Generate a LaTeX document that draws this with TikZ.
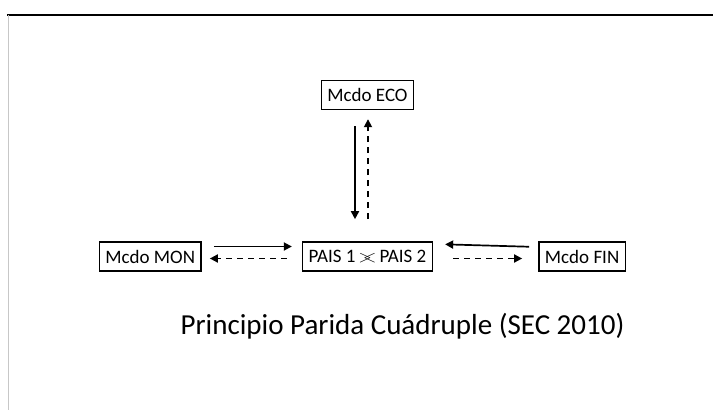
\documentclass[tikz,border=0pt]{standalone}
\usepackage{fontspec}
\setmainfont{Carlito}
\usetikzlibrary{positioning,arrows.meta}

\begin{document}
\begin{tikzpicture}[x=1pt,y=-1pt,>={Triangle[length=8pt,width=8pt]},
			node distance=100pt,
			mercado/.style={
				draw,
				line width=1.6pt,
				minimum height=29pt,
				inner xsep=6pt,
				font=\fontsize{19}{22}\selectfont
			},
			flujo/.style={->,line width=1.7pt},
			retorno/.style={->,line width=1.7pt,dash pattern=on 6pt off 5pt}]
			
			\useasboundingbox (0,0) rectangle (713,410);
			
			% page edges
			\draw[line width=2pt] (7,15) -- (713,15);
			\draw[line width=1.5pt,black!22] (8.5,15) -- (8.5,410);
			
			\node (pais)[mercado] at (367.5,256.5){PAIS 1\,$>\mkern-9mu<$\,PAIS 2};
			
			\node (eco)[mercado,above=131pt of pais]{Mcdo ECO};
			
			\node (mon)[mercado,left=of pais]{Mcdo MON};
			
			\node (fin)[mercado,right=105pt of pais]{Mcdo FIN};
			
			\node (titulo) at (402.5,326)[font=\fontsize{29}{34}\selectfont]{Principio Parida Cuádruple (SEC 2010)};
			
			\draw[flujo,shorten <=16pt,shorten >=22pt]([xshift=-12.5pt]eco.south)--([xshift=-12.5pt]pais.north);
			
			\draw[retorno,shorten <=22pt,shorten >=9pt]([xshift=0.5pt]pais.north)--([xshift=0.5pt]eco.south);
			
			\draw[flujo,shorten <=12pt,shorten >=10pt]([yshift=10pt]mon.east)--([yshift=10pt]pais.west);
			
			\draw[retorno,shorten <=15pt,shorten >=8pt]([yshift=-2pt]pais.west)--([yshift=-2pt]mon.east);
			
			\draw[flujo,shorten <=9pt,shorten >=12pt]([yshift=9.5pt]fin.west)--([yshift=12.5pt]pais.east);
			
			\draw[retorno,shorten <=20pt,shorten >=16pt]([yshift=-2pt]pais.east)--([yshift=-2pt]fin.west);
			
		\end{tikzpicture}
\end{document}
